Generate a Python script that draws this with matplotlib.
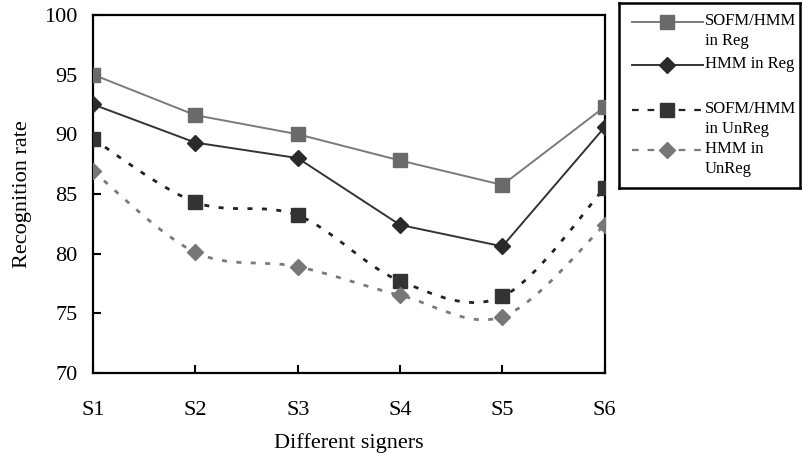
import matplotlib
matplotlib.use("Agg")
import matplotlib.pyplot as plt
from matplotlib.path import Path
from matplotlib.patches import PathPatch
import numpy as np

plt.rcParams['font.family'] = ['Liberation Serif', 'DejaVu Serif']

signers = ["S1", "S2", "S3", "S4", "S5", "S6"]
sofm_reg = [95.0, 91.6, 90.0, 87.8, 85.75, 92.3]
hmm_reg = [92.5, 89.3, 88.0, 82.4, 80.6, 90.6]
sofm_unreg = [89.6, 84.3, 83.2, 77.7, 76.4, 85.5]
hmm_unreg = [86.9, 80.1, 78.9, 76.5, 74.7, 82.4]

fig = plt.figure(figsize=(8.02, 4.53), dpi=100)
ax = fig.add_axes([0.116, 0.177, 0.638, 0.790])

x = np.arange(len(signers))


def smooth_path(xs, ys):
    pts = np.column_stack([xs, ys]).astype(float)
    n = len(pts)
    verts = [pts[0]]
    codes = [Path.MOVETO]
    for i in range(n - 1):
        p0 = pts[i - 1] if i > 0 else pts[i]
        p1 = pts[i]
        p2 = pts[i + 1]
        p3 = pts[i + 2] if i + 2 < n else pts[i + 1]
        c1 = p1 + (p2 - p0) / 6.0
        c2 = p2 - (p3 - p1) / 6.0
        verts += [c1, c2, p2]
        codes += [Path.CURVE4] * 3
    return Path(verts, codes)


c_sr_line, c_sr_mark = "#7a7a7a", "#6a6a6a"
c_hr_line, c_hr_mark = "#333333", "#2a2a2a"
c_su_line, c_su_mark = "#222222", "#333333"
c_hu_line, c_hu_mark = "#7a7a7a", "#777777"
dash = (0, (1.8, 3.4))

ax.plot(x, sofm_reg, color=c_sr_line, lw=1.4, marker="s", ms=10.5,
        mfc=c_sr_mark, mec=c_sr_mark, zorder=3)
ax.plot(x, hmm_reg, color=c_hr_line, lw=1.4, marker="D", ms=8,
        mfc=c_hr_mark, mec=c_hr_mark, zorder=3)

ax.add_patch(PathPatch(smooth_path(x, sofm_unreg), fill=False,
                       edgecolor=c_su_line, lw=2.0, linestyle=dash, zorder=2))
ax.plot(x, sofm_unreg, ls="none", marker="s", ms=10.5, mfc=c_su_mark,
        mec=c_su_mark, zorder=3)
ax.add_patch(PathPatch(smooth_path(x, hmm_unreg), fill=False,
                       edgecolor=c_hu_line, lw=2.0, linestyle=dash, zorder=2))
ax.plot(x, hmm_unreg, ls="none", marker="D", ms=8, mfc=c_hu_mark,
        mec=c_hu_mark, zorder=3)

ax.set_xlim(0, 5)
ax.set_ylim(70, 100)
ax.set_yticks([70, 75, 80, 85, 90, 95, 100])
ax.set_xticks(x)
ax.set_xticklabels(signers)
ax.tick_params(direction="in", length=6, width=1.5, labelsize=16)
ax.tick_params(axis="x", pad=20)
ax.tick_params(axis="y", pad=11)
for sp in ax.spines.values():
    sp.set_linewidth(1.6)
    sp.set_clip_on(False)
ax.set_xlabel("Different signers", fontsize=16, labelpad=10)
ax.set_ylabel("Recognition rate", fontsize=16, labelpad=9)

# legend box
lax = fig.add_axes([619 / 802, 1 - 188 / 453, 181 / 802, 185 / 453])
lax.set_xlim(0, 1)
lax.set_ylim(188, 3)
lax.set_xticks([])
lax.set_yticks([])
for sp in lax.spines.values():
    sp.set_linewidth(1.8)

entries = [
    (22, "SOFM/HMM\nin Reg", c_sr_line, "-", "s", c_sr_mark, 10, 1.4),
    (65, "HMM in Reg", c_hr_line, "-", "D", c_hr_mark, 8, 1.4),
    (110, "SOFM/HMM\nin UnReg", c_su_line, (0, (3, 4)), "s", c_su_mark, 10, 1.6),
    (150, "HMM in\nUnReg", c_hu_line, (0, (3, 4)), "D", c_hu_mark, 8, 1.6),
]
for yy, lab, lc, ls, mk, mc, ms, lw in entries:
    lax.plot([0.072, 0.464], [yy, yy], color=lc, ls=ls, lw=lw)
    lax.plot([0.265], [yy], ls="none", marker=mk, ms=ms, mfc=mc, mec=mc)
    lax.text(0.475, yy - 9, lab, fontsize=12, va="top", ha="left",
             linespacing=1.3)

fig.savefig("out.png", dpi=100)
